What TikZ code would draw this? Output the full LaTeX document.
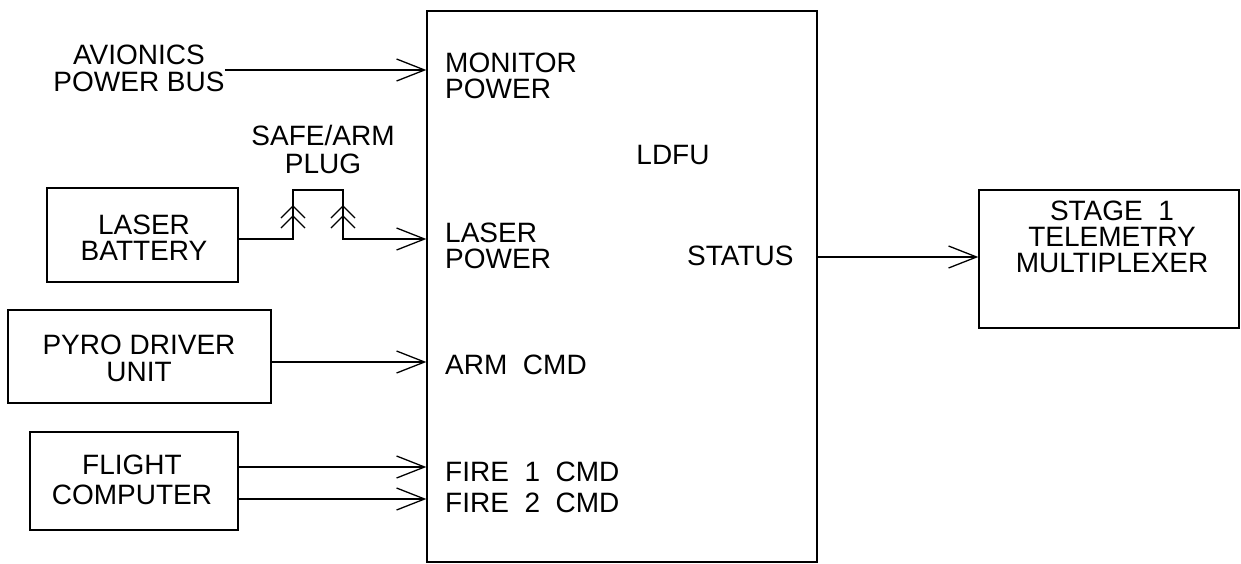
\documentclass[tikz,border=0pt]{standalone}
\usepackage{fontspec}
\setmainfont{Liberation Sans}
\usetikzlibrary{arrows.meta}
\begin{document}
\begin{tikzpicture}[x=1pt,y=-1pt,
  every node/.style={font=\fontsize{28}{26}\selectfont},
  lead/.style={font=\fontsize{28}{#1}\selectfont},
  blk/.style={draw,line width=1.3pt,inner sep=0pt},
  lbl/.style={inner sep=0pt,align=center},
  inl/.style={inner sep=0pt,anchor=west,align=left},
  wire/.style={line width=1.3pt},
  arr/.style={line width=1.3pt,-{Straight Barb[length=28pt,width=22pt,line width=1.3pt]}}]
\useasboundingbox (0,0) rectangle (1241,563);
\fill[white] (0,0) rectangle (1241,563);
% blocks
\node[blk,minimum width=390pt,minimum height=551pt] (ldfu) at (622,286.5) {};
\node[blk,minimum width=191pt,minimum height=94pt] (lb) at (142.5,235) {};
\node[blk,minimum width=263pt,minimum height=93pt] (pdu) at (139.5,356.5) {};
\node[blk,minimum width=208pt,minimum height=98pt] (fc) at (134,481) {};
\node[blk,minimum width=260pt,minimum height=138pt] (tm) at (1109,259) {};
% block texts
\node[lbl,lead=26] (lbt) at (144,237.5) {LASER\\BATTERY};
\node[lbl,lead=27] (pdut) at (139,358.5) {PYRO DRIVER\\UNIT};
\node[lbl,lead=30] (fct) at (132,480) {FLIGHT\\COMPUTER};
\node[lbl,lead=26] (tmt) at (1112,237) {STAGE \ 1\\TELEMETRY\\MULTIPLEXER};
\node[lbl,lead=27] (avi) at (139,68.5) {AVIONICS\\POWER BUS};
\node[lbl,lead=28] (plug) at (323,149) {SAFE/ARM\\PLUG};
% LDFU texts
\node[lbl] (ldfut) at (673,155) {LDFU};
\node[inl,lead=26] (mp) at (445,75.5) {MONITOR\\POWER};
\node[inl,lead=26] (lp) at (445,245.5) {LASER\\POWER};
\node[inl] (st) at (687,256) {STATUS};
\node[inl] (arm) at (445,365) {ARM \ CMD};
\node[inl] (f1) at (445,472) {FIRE \ 1 \ CMD};
\node[inl] (f2) at (445,503) {FIRE \ 2 \ CMD};
% connectors
\coordinate (p1) at (293,190);
\coordinate (p2) at (343,190);
\draw[arr] (avi.east |- 0,70) -- (ldfu.west |- 0,70);
\draw[arr] (lb.east |- 0,239) -| (p1) -| (p2 |- 0,239) -- (ldfu.west |- 0,239);
\draw[arr] (pdu.east |- 0,362) -- (ldfu.west |- 0,362);
\draw[arr] (fc.east |- 0,467) -- (ldfu.west |- 0,467);
\draw[arr] (fc.east |- 0,499) -- (ldfu.west |- 0,499);
\draw[arr] (ldfu.east |- 0,257) -- (tm.west |- 0,257);
% plug chevrons
\foreach \x in {293,343}{
  \foreach \y in {206,216}{
    \draw[wire] (\x-12,\y+12) -- (\x,\y) -- (\x+12,\y+12);
  }
}
\end{tikzpicture}
\end{document}
